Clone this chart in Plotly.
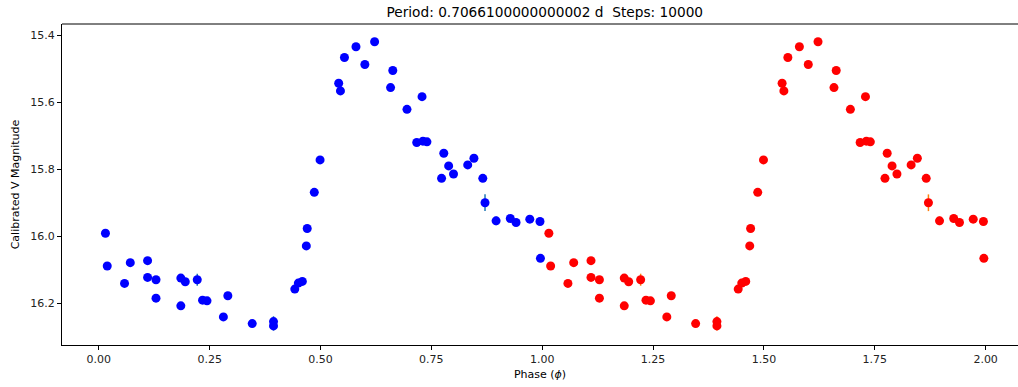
import plotly.graph_objects as go

phase = [0.015, 0.019, 0.071, 0.058, 0.110, 0.110, 0.129, 0.129, 0.185, 0.195,
         0.185, 0.222, 0.234, 0.244, 0.291, 0.281, 0.346, 0.394, 0.394, 0.442,
         0.450, 0.459, 0.468, 0.470, 0.486, 0.499, 0.541, 0.545, 0.554, 0.580,
         0.600, 0.622, 0.663, 0.658, 0.695, 0.729, 0.717, 0.731, 0.740, 0.778,
         0.789, 0.773, 0.800, 0.832, 0.846, 0.866, 0.871, 0.896, 0.928, 0.941,
         0.972, 0.995, 0.996]
mag = [15.991, 16.089, 16.079, 16.141, 16.073, 16.123, 16.130, 16.185, 16.125, 16.136,
       16.208, 16.130, 16.191, 16.193, 16.178, 16.241, 16.261, 16.255, 16.268, 16.158,
       16.140, 16.135, 16.029, 15.977, 15.869, 15.772, 15.543, 15.566, 15.466, 15.434,
       15.487, 15.419, 15.505, 15.556, 15.621, 15.583, 15.720, 15.716, 15.718, 15.752,
       15.790, 15.827, 15.814, 15.787, 15.767, 15.827, 15.900, 15.954, 15.947, 15.959,
       15.949, 15.956, 16.066]
mag_err = [0.008, 0.008, 0.008, 0.008, 0.008, 0.008, 0.008, 0.008, 0.008, 0.008,
           0.008, 0.018, 0.008, 0.008, 0.008, 0.008, 0.008, 0.016, 0.014, 0.008,
           0.008, 0.008, 0.008, 0.008, 0.008, 0.008, 0.008, 0.008, 0.008, 0.008,
           0.008, 0.008, 0.008, 0.008, 0.008, 0.008, 0.008, 0.008, 0.008, 0.008,
           0.008, 0.008, 0.008, 0.008, 0.008, 0.008, 0.025, 0.013, 0.008, 0.008,
           0.008, 0.008, 0.008]

phase2 = [p + 1 for p in phase]

title = "Period: 0.7066100000000002 d  Steps: 10000"
font = "DejaVu Sans"

fig = go.Figure()
fig.add_trace(go.Scatter(
    x=phase, y=mag, mode="markers",
    marker=dict(color="#0000ff", size=9, line=dict(width=0)),
    error_y=dict(type="data", array=mag_err, color="#1f77b4", thickness=1.5, width=0),
    showlegend=False))
fig.add_trace(go.Scatter(
    x=phase2, y=mag, mode="markers",
    marker=dict(color="#ff0000", size=9, line=dict(width=0)),
    error_y=dict(type="data", array=mag_err, color="#ff7f0e", thickness=1.5, width=0),
    showlegend=False))

fig.add_shape(type="line", xref="paper", yref="paper", x0=0, x1=1, y0=1, y1=1,
              line=dict(color="black", width=1))

fig.update_layout(
    width=1018, height=387,
    margin=dict(l=62, r=0, t=24, b=42),
    paper_bgcolor="white", plot_bgcolor="white",
    font=dict(family=font, size=11, color="#222222"),
    title=dict(text=title, x=0.505, xref="paper", xanchor="center",
               y=1 - 12 / 387, yref="container", yanchor="middle",
               font=dict(family=font, size=13.7, color="black")),
)
fig.update_xaxes(
    range=[-0.083, 2.073], tickvals=[0, 0.25, 0.5, 0.75, 1.0, 1.25, 1.5, 1.75, 2.0],
    ticktext=["0.00", "0.25", "0.50", "0.75", "1.00", "1.25", "1.50", "1.75", "2.00"],
    showgrid=False, zeroline=False, showline=True, linecolor="black", linewidth=1,
    ticks="outside", ticklen=4, tickcolor="black",
    title=dict(text="Phase (<i>ϕ</i>)", standoff=5, font=dict(size=11, color="black")))
fig.update_yaxes(
    range=[16.325, 15.366], tickvals=[15.4, 15.6, 15.8, 16.0, 16.2],
    ticktext=["15.4", "15.6", "15.8", "16.0", "16.2"],
    showgrid=False, zeroline=False, showline=True, linecolor="black", linewidth=1,
    ticks="outside", ticklen=4, tickcolor="black",
    title=dict(text="Calibrated V Magnitude", standoff=8, font=dict(size=11, color="black")))

fig.write_html("out.html")
